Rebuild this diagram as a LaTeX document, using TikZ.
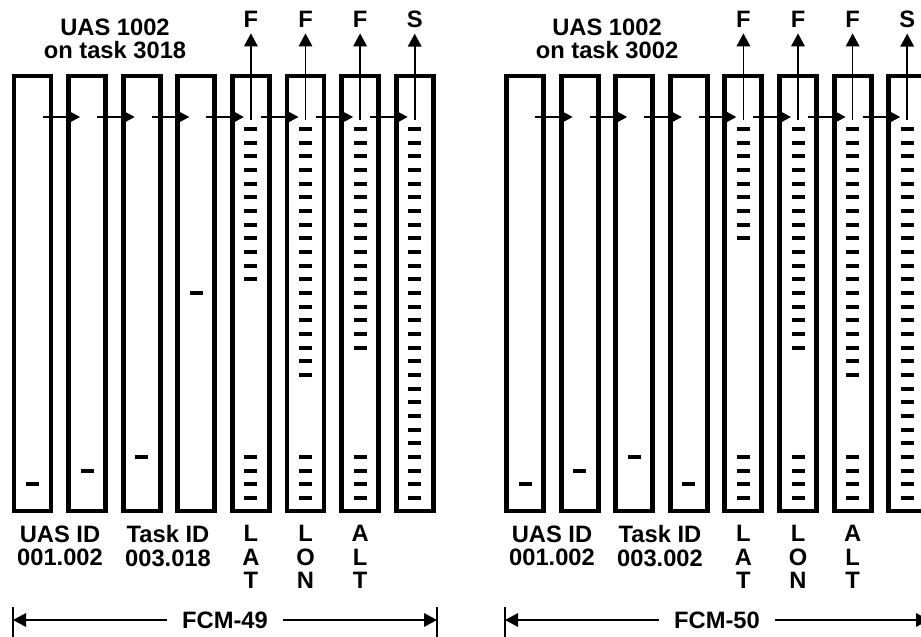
\documentclass[tikz,border=0pt]{standalone}
\usepackage{fontspec}
\setmainfont{Liberation Sans}
\usetikzlibrary{positioning, arrows.meta, calc}

\begin{document}
\begin{tikzpicture}[x=0.2mm, y=-0.2mm,
    fieldBox/.style={draw=black, line width=2.8pt, rectangle, minimum width=0.74cm, minimum height=8.7cm, inner sep=0pt},
    tickMark/.style={draw=black, line width=2.2pt},
    flowArrow/.style={draw=black, line width=1pt, -{Triangle[length=0.26cm, width=0.27cm]}},
    spanBar/.style={draw=black, line width=1.2pt},
    fieldLabel/.style={align=center, font=\fontsize{13.5}{13.2}\selectfont\bfseries, inner sep=0pt},
    flagLabel/.style={font=\fontsize{13.5}{13.2}\selectfont\bfseries},
    spanLabel/.style={font=\fontsize{13.5}{13.2}\selectfont\bfseries, inner sep=0.3cm},
]
\path[use as bounding box, clip] (0,0) rectangle (921,636);

\node[fieldBox] (a1) at ( 32.5, 293.5) {};
\node[fieldBox] (a2) at ( 87.1, 293.5) {};
\node[fieldBox] (a3) at (141.7, 293.5) {};
\node[fieldBox] (a4) at (196.3, 293.5) {};
\node[fieldBox] (a5) at (250.9, 293.5) {};
\node[fieldBox] (a6) at (305.5, 293.5) {};
\node[fieldBox] (a7) at (360.1, 293.5) {};
\node[fieldBox] (a8) at (414.7, 293.5) {};

\node[fieldBox] (b1) at (525.0, 293.5) {};
\node[fieldBox] (b2) at (579.6, 293.5) {};
\node[fieldBox] (b3) at (634.2, 293.5) {};
\node[fieldBox] (b4) at (688.8, 293.5) {};
\node[fieldBox] (b5) at (743.4, 293.5) {};
\node[fieldBox] (b6) at (798.0, 293.5) {};
\node[fieldBox] (b7) at (852.6, 293.5) {};
\node[fieldBox] (b8) at (907.2, 293.5) {};

\node[fieldLabel] (taskA) at (115, 39) {UAS 1002\\on task 3018};
\node[fieldLabel] (taskB) at (607, 39) {UAS 1002\\on task 3002};

\foreach \col/\k in {a1/26, a2/25, a3/24, a4/12, b1/26, b2/25, b3/24, b4/26}
    \draw[tickMark] ($(\col.center)+(-6.5,{-164.5+13.67*\k})$) -- ++(13,0);
\foreach \col/\n in {a5/11, a6/18, a7/16, a8/27, b5/8, b6/16, b7/18, b8/27} {
    \foreach \k in {0,...,\n}
        \draw[tickMark] ($(\col.center)+(-6.5,{-164.5+13.67*\k})$) -- ++(13,0);
    \foreach \k in {24,...,27}
        \draw[tickMark] ($(\col.center)+(-6.5,{-164.5+13.67*\k})$) -- ++(13,0);
}

\foreach \from/\to in {a1/a2, a2/a3, a3/a4, a4/a5, a5/a6, a6/a7, a7/a8,
                       b1/b2, b2/b3, b3/b4, b4/b5, b5/b6, b6/b7, b7/b8}
    \draw[flowArrow] ($(\from.center)+(10,-176.5)$) -- ($(\to.center)+(-7,-176.5)$);

\node[flagLabel] (fa5) at (250.9, 19) {F};
\node[flagLabel] (fa6) at (305.5, 19) {F};
\node[flagLabel] (fa7) at (360.1, 19) {F};
\node[flagLabel] (sa8) at (414.7, 19) {S};
\node[flagLabel] (fb5) at (743.4, 19) {F};
\node[flagLabel] (fb6) at (798.0, 19) {F};
\node[flagLabel] (fb7) at (852.6, 19) {F};
\node[flagLabel] (sb8) at (907.2, 19) {S};
\foreach \col/\flag in {a5/fa5, a6/fa6, a7/fa7, a8/sa8, b5/fb5, b6/fb6, b7/fb7, b8/sb8}
    \draw[flowArrow] ($(\col.center)+(0,-174)$) -- (\flag.south);

\node[fieldLabel] (uasA)  at ( 60, 546) {UAS ID\\001.002};
\node[fieldLabel] (taskIdA) at (168, 546) {Task ID\\003.018};
\node[fieldLabel] (latA) at (250.9, 557) {L\\A\\T};
\node[fieldLabel] (lonA) at (305.5, 557) {L\\O\\N};
\node[fieldLabel] (altA) at (360.1, 557) {A\\L\\T};

\node[fieldLabel] (uasB)  at (552, 546) {UAS ID\\001.002};
\node[fieldLabel] (taskIdB) at (660, 546) {Task ID\\003.002};
\node[fieldLabel] (latB) at (743.4, 557) {L\\A\\T};
\node[fieldLabel] (lonB) at (798.0, 557) {L\\O\\N};
\node[fieldLabel] (altB) at (852.6, 557) {A\\L\\T};

\coordinate (endA1) at (13, 620);
\coordinate (endA2) at (437, 620);
\coordinate (endB1) at (505, 620);
\coordinate (endB2) at (929, 620);
\node[spanLabel] (fcmA) at (225, 620) {FCM-49};
\node[spanLabel] (fcmB) at (717, 620) {FCM-50};
\draw[flowArrow] (fcmA.west) -- (endA1);
\draw[flowArrow] (fcmA.east) -- (endA2);
\draw[flowArrow] (fcmB.west) -- (endB1);
\draw[flowArrow] (fcmB.east) -- (endB2);
\draw[spanBar] ($(endA1)+(0,-13)$) -- ($(endA1)+(0,20)$);
\draw[spanBar] ($(endA2)+(0,-13)$) -- ($(endA2)+(0,20)$);
\draw[spanBar] ($(endB1)+(0,-13)$) -- ($(endB1)+(0,20)$);
\draw[spanBar] ($(endB2)+(0,-13)$) -- ($(endB2)+(0,20)$);
\end{tikzpicture}
\end{document}
